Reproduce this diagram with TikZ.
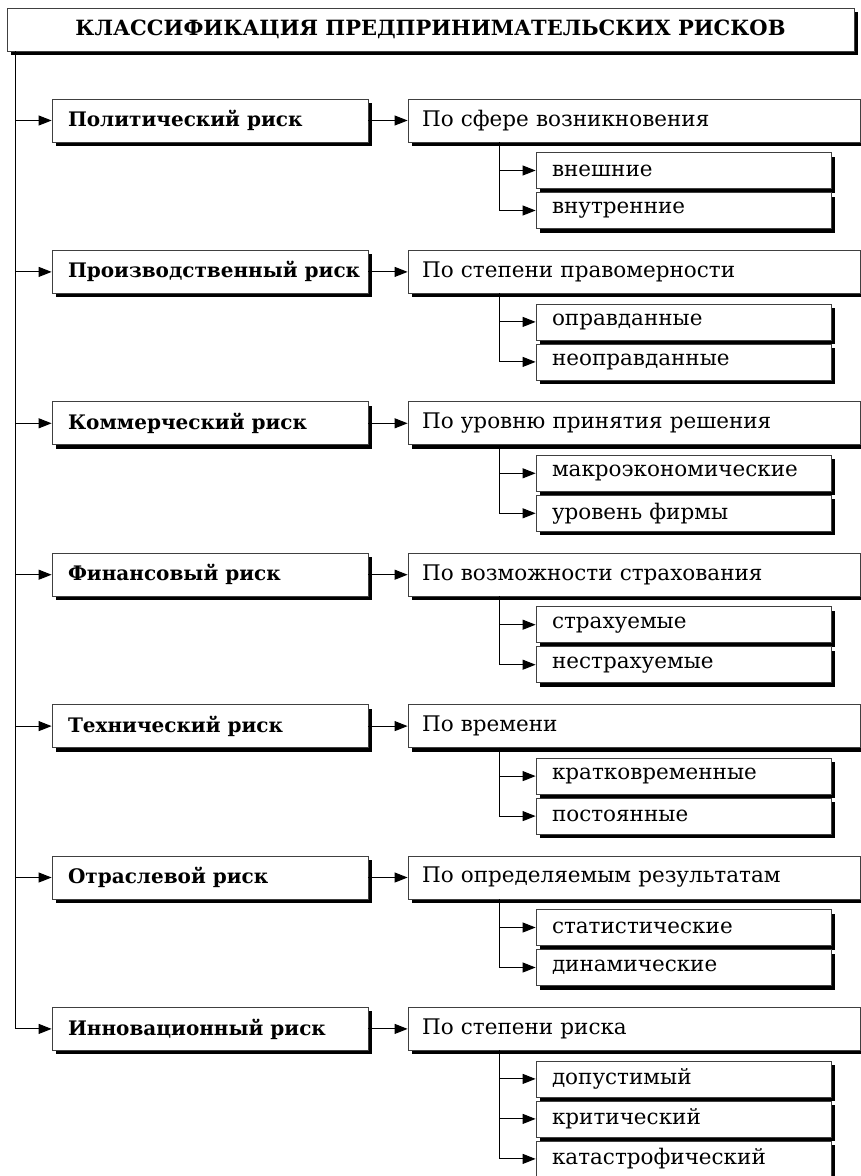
\documentclass[tikz,border=0pt]{standalone}
\usepackage{fontspec}
\setmainfont{DejaVu Serif}
\usetikzlibrary{arrows.meta,shadows}
\begin{document}
\begin{tikzpicture}[x=1pt,y=-1pt,
  shbox/.style={draw=black!75, line width=0.8pt, fill=white, rectangle,
    general shadow={fill=black, shadow xshift=4pt, shadow yshift=-4pt}},
  titlebox/.style={shbox, minimum width=847pt, minimum height=43pt, inner sep=0pt,
    font=\fontsize{21}{25}\selectfont\bfseries},
  riskbox/.style={shbox, minimum height=43pt, inner xsep=16pt, inner ysep=0pt,
    font=\fontsize{20}{24}\selectfont\bfseries},
  critbox/.style={shbox, minimum height=43pt, text width=424pt, inner xsep=14pt, inner ysep=0pt,
    align=left, font=\fontsize{21.5}{25}\selectfont},
  subbox/.style={shbox, minimum height=36pt, text width=263pt, inner xsep=16pt, inner ysep=0pt,
    align=left, font=\fontsize{21.5}{25}\selectfont},
  arr/.style={line width=1pt, -{Triangle[length=13pt,width=10pt]}},
  ln/.style={line width=1pt}]
\useasboundingbox (0,0) rectangle (861,1176);

\node[titlebox] (T) at (430.5,29.5) {КЛАССИФИКАЦИЯ ПРЕДПРИНИМАТЕЛЬСКИХ РИСКОВ};
\coordinate (t0) at (15,51);

\foreach \i/\a/\b/\c/\d in {
  1/Политический риск/По сфере возникновения/внешние/внутренние,
  2/Производственный риск/По степени правомерности/оправданные/неоправданные,
  3/Коммерческий риск/По уровню принятия решения/макроэкономические/уровень фирмы,
  4/Финансовый риск/По возможности страхования/страхуемые/нестрахуемые,
  5/Технический риск/По времени/кратковременные/постоянные,
  6/Отраслевой риск/По определяемым результатам/статистические/динамические,
  7/Инновационный риск/По степени риска/допустимый/критический}
{
  \pgfmathsetmacro{\yy}{120.5+151.4*(\i-1)}
  \node[riskbox] (L\i) at (210,\yy) {\makebox[284pt][l]{\a}};
  \node[critbox] (H\i) at (634,\yy) {\b};
  \node[subbox] (S\i a) at (683.5,\yy+50) {\c};
  \node[subbox] (S\i b) at (683.5,\yy+90) {\d};
  \draw[arr] (t0 |- L\i.west) -- (L\i.west);
  \draw[arr] (L\i.east) -- (H\i.west);
  \coordinate (s\i) at (499,\yy+21.5);
  \draw[arr] (s\i |- S\i a.west) -- (S\i a.west);
}
\node[subbox] (S7c) at (683.5,120.5+151.4*6+130) {катастрофический};

\draw[ln] (t0) -- (t0 |- L7.west);
\foreach \i in {1,...,6} {
  \draw[arr] (s\i) |- (S\i b.west);
}
\draw[arr] (s7) |- (S7b.west);
\draw[arr] (s7) |- (S7c.west);
\end{tikzpicture}
\end{document}
